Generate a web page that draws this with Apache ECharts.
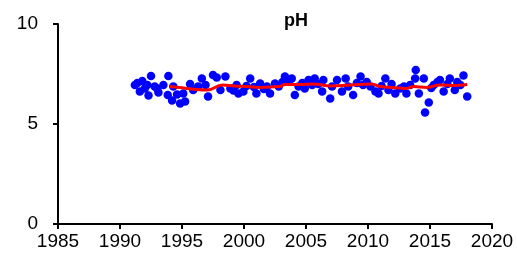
<!DOCTYPE html>
<html>
<head>
<meta charset="utf-8">
<script src="https://cdn.jsdelivr.net/npm/echarts@6/dist/echarts.min.js"></script>
<style>
  html, body { margin: 0; padding: 0; background: #fff; }
  #chart { width: 517px; height: 256px; }
</style>
</head>
<body>
<div id="chart"></div>
<script>
// 观测时间（年，小数）和 pH 值
const sampleYears = [
  1991.2, 1991.4, 1991.6, 1991.8, 1992.0, 1992.2, 1992.3, 1992.5, 1992.8, 1993.0,
  1993.1, 1993.5, 1993.85, 1993.9, 1994.2, 1994.3, 1994.6, 1994.85, 1995.1, 1995.25,
  1995.65, 1995.9, 1996.3, 1996.6, 1996.9, 1997.1, 1997.5, 1997.8, 1998.1, 1998.5,
  1998.9, 1999.15, 1999.4, 1999.55, 1999.95, 2000.2, 2000.5, 2000.8, 2001.0, 2001.3,
  2001.6, 2001.85, 2002.1, 2002.5, 2002.8, 2003.1, 2003.3, 2003.6, 2003.85, 2004.1,
  2004.4, 2004.7, 2004.9, 2005.2, 2005.5, 2005.7, 2006.0, 2006.3, 2006.4, 2006.95,
  2007.1, 2007.5, 2007.9, 2008.2, 2008.4, 2008.8, 2009.1, 2009.4, 2009.6, 2009.9,
  2010.2, 2010.6, 2010.85, 2011.1, 2011.4, 2011.65, 2011.9, 2012.2, 2012.6, 2012.9,
  2013.1, 2013.4, 2013.8, 2013.85, 2014.1, 2014.5, 2014.6, 2014.9, 2015.1, 2015.3,
  2015.6, 2015.8, 2016.1, 2016.4, 2016.6, 2017.0, 2017.2, 2017.45, 2017.7, 2018.0
]
const sampleValues = [
  6.95, 7.05, 6.62, 7.15, 6.78, 6.95, 6.42, 7.40, 6.87, 6.78,
  6.57, 6.95, 6.45, 7.40, 6.17, 6.87, 6.48, 6.03, 6.53, 6.12,
  7.00, 6.70, 6.87, 7.28, 6.95, 6.37, 7.45, 7.33, 6.70, 7.37,
  6.78, 6.67, 6.95, 6.53, 6.62, 6.90, 7.28, 6.85, 6.53, 7.03,
  6.75, 6.87, 6.53, 7.03, 6.87, 7.10, 7.37, 7.12, 7.28, 6.45,
  6.87, 7.05, 6.78, 7.20, 6.95, 7.28, 7.00, 6.62, 7.20, 6.28,
  6.87, 7.20, 6.62, 7.28, 6.87, 6.45, 7.05, 7.37, 6.95, 7.10,
  6.87, 6.62, 6.53, 6.90, 7.28, 6.70, 7.00, 6.53, 6.78, 6.87,
  6.53, 6.95, 7.28, 7.70, 6.53, 7.28, 5.57, 6.07, 6.80, 6.95,
  7.10, 7.20, 6.62, 7.00, 7.28, 6.70, 7.10, 6.95, 7.42, 6.37
]
// 滑动平均曲线
const trendYears = [1994.0, 1994.8, 1995.8, 1997.0, 1998.3, 1999.2, 2000.2, 2001.3, 2002.9, 2003.3, 2004.5, 2005.6, 2007.0, 2008.6, 2010.2, 2011.0, 2012.0, 2013.1, 2013.65, 2014.75, 2015.8, 2017.0, 2018.0]
const trendValues = [6.87, 6.82, 6.75, 6.70, 6.95, 6.90, 6.87, 6.83, 6.87, 6.98, 6.97, 7.00, 6.90, 6.95, 7.00, 6.87, 6.83, 6.78, 6.87, 6.83, 6.95, 6.93, 6.98]
const xTicks = [1985, 2020, 5]
const yTicks = [0, 10, 5]

const myChart = echarts.init(document.getElementById('chart'))

const axisFont = { fontFamily: 'Liberation Sans', fontSize: 19, color: '#000' }

myChart.setOption({
  animation: false,
  title: {
    text: 'pH',
    left: 279,
    top: 7,
    textStyle: { fontFamily: 'Liberation Sans', fontSize: 18, fontWeight: 'bold', color: '#000' }
  },
  grid: { left: 58, right: 25, top: 24, bottom: 32 },
  xAxis: {
    type: 'value',
    min: xTicks[0],
    max: xTicks[1],
    interval: xTicks[2],
    splitLine: { show: false },
    axisLine: { show: true, onZero: false, lineStyle: { color: '#000', width: 2 } },
    axisTick: { show: true, length: 5, lineStyle: { color: '#000', width: 2 } },
    axisLabel: { ...axisFont, margin: 8, formatter: (v) => String(v) }
  },
  yAxis: {
    type: 'value',
    min: yTicks[0],
    max: yTicks[1],
    interval: yTicks[2],
    splitLine: { show: false },
    axisLine: { show: true, lineStyle: { color: '#000', width: 2 } },
    axisTick: { show: true, length: 5, lineStyle: { color: '#000', width: 2 } },
    axisLabel: { ...axisFont, margin: 20 }
  },
  series: [
    {
      type: 'scatter',
      symbolSize: 8.5,
      itemStyle: { color: '#0000ff', opacity: 1 },
      data: sampleYears.map((y, i) => [y, sampleValues[i]])
    },
    {
      type: 'line',
      symbol: 'none',
      smooth: true,
      lineStyle: { color: '#ff0000', width: 3 },
      data: trendYears.map((y, i) => [y, trendValues[i]])
    }
  ]
})
</script>
</body>
</html>
